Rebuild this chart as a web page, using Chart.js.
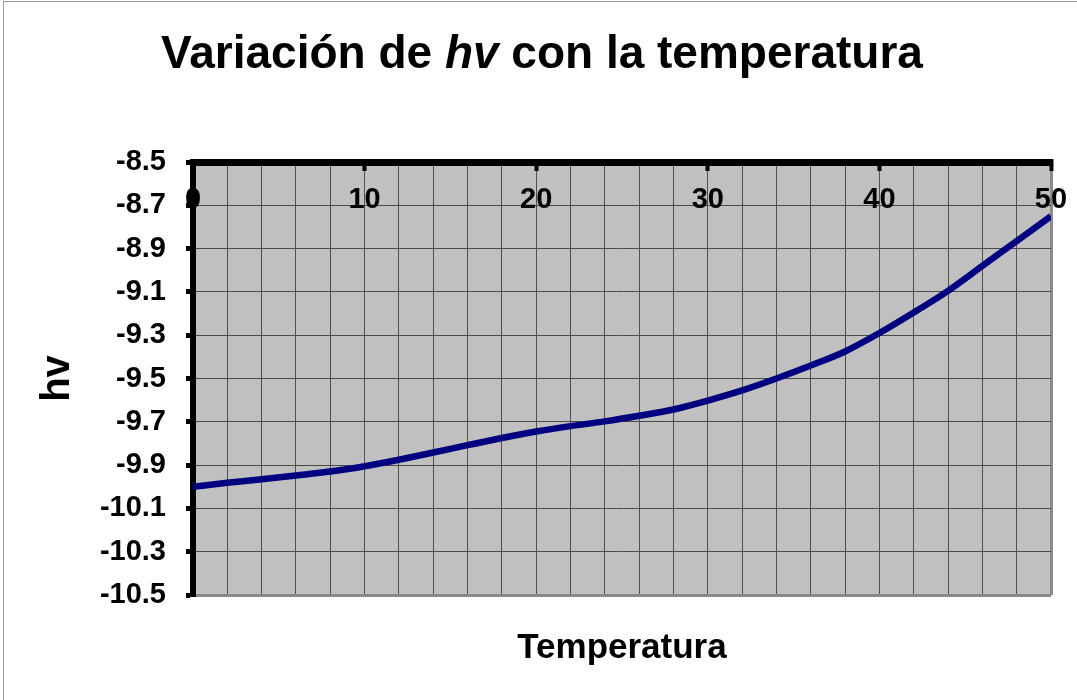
<!DOCTYPE html>
<html>
<head>
<meta charset="utf-8">
<script src="https://cdn.jsdelivr.net/npm/chart.js@4/dist/chart.umd.min.js"></script>
<style>
  html, body { margin: 0; padding: 0; background: #fff; overflow: hidden; }
  #wrap { position: relative; width: 1077px; height: 700px; }
  #frame { position: absolute; left: 3px; top: 1px; width: 1200px; height: 800px; border: 1px solid #9a9a9a; box-sizing: border-box; pointer-events: none; }
  #title { position: absolute; left: 0; width: 1084px; top: 22px; height: 60px; line-height: 60px; text-align: center;
           font-family: "Liberation Sans", Arial, sans-serif; font-weight: bold; font-size: 46px; color: #000; white-space: nowrap; }
  canvas { position: absolute; left: 0; top: 0; }
</style>
</head>
<body>
<div id="wrap">
  <canvas id="c" width="1077" height="700"></canvas>
  <div id="frame"></div>
  <div id="title">Variación de <i>hv</i> con la temperatura</div>
</div>
<script>
// ---- data ----
const temperatures = [0, 2, 4, 6, 8, 10, 12, 14, 16, 18, 20, 22, 24, 26, 28, 30, 32, 34, 36, 38, 40, 42, 44, 46, 48, 50];
const hvValues = [-10.00, -9.982, -9.965, -9.948, -9.93, -9.905, -9.875, -9.842, -9.808, -9.775, -9.745, -9.72, -9.698,
                  -9.672, -9.643, -9.602, -9.555, -9.50, -9.44, -9.375, -9.29, -9.195, -9.095, -8.98, -8.865, -8.75];
const xMin = 0, xMax = 50, xGridStep = 2, xLabelStep = 10;
const yMin = -10.5, yMax = -8.5, yStep = 0.2;
const xTitle = 'Temperatura';
const yTitle = 'hv';

const FONT = '"Liberation Sans", Arial, sans-serif';

const plotBg = {
  id: 'plotBg',
  beforeDraw(chart) {
    const a = chart.chartArea, ctx = chart.ctx;
    ctx.save();
    ctx.fillStyle = '#c0c0c0';
    ctx.fillRect(a.left, a.top, a.right - a.left, a.bottom - a.top);
    ctx.restore();
  }
};

const points = temperatures.map((t, i) => ({ x: t, y: hvValues[i] }));

new Chart(document.getElementById('c'), {
  type: 'line',
  data: {
    datasets: [{
      data: points,
      borderColor: '#000080',
      borderWidth: 6.5,
      pointRadius: 0,
      cubicInterpolationMode: 'monotone',
      fill: false
    }]
  },
  options: {
    responsive: false,
    animation: false,
    devicePixelRatio: 1,
    layout: { padding: { top: 152, right: 26, bottom: 0, left: 0 } },
    plugins: { legend: { display: false }, tooltip: { enabled: false }, title: { display: false } },
    scales: {
      x: {
        type: 'linear',
        position: 'top',
        min: xMin, max: xMax,
        afterFit: s => { s.height = 10; s.paddingLeft = 0; s.paddingRight = 0; },
        border: { display: true, color: '#000', width: 7 },
        grid: {
          color: ctx => (ctx.tick && ctx.tick.value === xMax) ? '#8a8a8a' : '#505050',
          lineWidth: ctx => (ctx.tick && ctx.tick.value === xMax) ? 3 : 1,
          drawTicks: true,
          tickLength: -9,
          tickWidth: 4,
          tickColor: ctx => (ctx.tick && ctx.tick.value % xLabelStep === 0) ? '#000' : 'rgba(0,0,0,0)'
        },
        ticks: {
          stepSize: xGridStep,
          autoSkip: false,
          maxRotation: 0,
          mirror: true,
          padding: 21,
          color: '#000',
          font: { family: FONT, weight: 'bold', size: 29 },
          callback: v => (v % xLabelStep === 0 ? String(v) : '')
        }
      },
      x2: {
        type: 'linear',
        position: 'bottom',
        display: true,
        afterFit: s => { s.height = 105; s.paddingLeft = 0; s.paddingRight = 0; },
        border: { display: false },
        grid: { display: false, drawTicks: false },
        ticks: { display: false },
        title: {
          display: true,
          text: xTitle,
          color: '#000',
          font: { family: FONT, weight: 'bold', size: 35 },
          padding: { top: 0, bottom: 31 }
        }
      },
      y: {
        type: 'linear',
        position: 'left',
        min: yMin, max: yMax,
        afterFit: s => { s.width = 193; },
        border: { display: true, color: '#000', width: 6 },
        grid: {
          color: ctx => (ctx.tick && Math.abs(ctx.tick.value - yMin) < 1e-9) ? '#8a8a8a' : '#4a4a4a',
          lineWidth: ctx => (ctx.tick && Math.abs(ctx.tick.value - yMin) < 1e-9) ? 3 : 1,
          tickLength: 7,
          tickWidth: 5,
          tickColor: '#000'
        },
        ticks: {
          stepSize: yStep,
          autoSkip: false,
          padding: 20,
          color: '#000',
          font: { family: FONT, weight: 'bold', size: 29 },
          callback: v => Number(v).toFixed(1)
        },
        title: {
          display: true,
          text: yTitle,
          color: '#000',
          font: { family: FONT, weight: 'bold', size: 40 },
          padding: { top: 34, bottom: 0 }
        }
      }
    }
  },
  plugins: [plotBg]
});
</script>
</body>
</html>
